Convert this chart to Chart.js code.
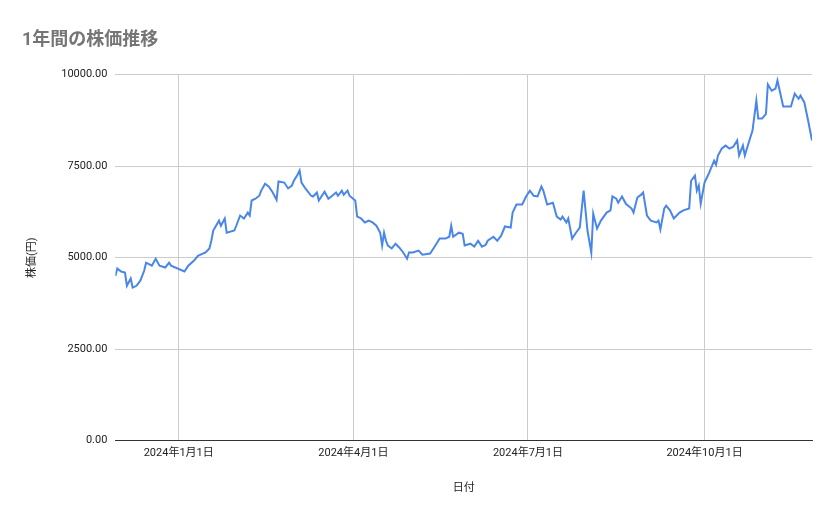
<!DOCTYPE html>
<html><head><meta charset="utf-8">
<script src="https://cdn.jsdelivr.net/npm/chart.js@4"></script>
<style>html,body{margin:0;padding:0;background:#fff}#w{width:839px;height:519px;position:relative}</style>
</head><body><div id="w"><canvas id="c"></canvas></div>
<script>
// days relative to 2024-01-01
const days=[-33,-32,-30,-28,-27,-25,-24,-22,-20,-18,-17,-14,-12,-10,-7,-5,-4,3,5,8,10,14,16,17,18,21,22,24,25,29,30,32,34,36,37,38,40,42,43,45,47,49,51,52,55,57,59,60,62,63,64,66,69,70,72,73,76,78,80,82,83,85,86,88,89,92,93,95,97,99,101,103,105,106,107,108,109,111,113,115,117,119,120,122,125,127,131,133,136,139,141,142,143,146,148,149,152,154,156,158,160,161,164,166,168,170,173,174,176,179,181,183,185,187,189,190,192,195,197,199,200,202,203,205,207,209,211,213,215,216,218,220,223,225,226,228,229,231,233,236,237,239,241,242,244,246,249,250,251,253,254,256,258,261,263,266,267,269,270,271,272,274,276,279,280,281,283,285,287,289,291,292,294,295,297,299,301,302,304,306,307,309,311,312,315,319,321,323,324,326,328,330];
const prices=[4500,4700,4620,4590,4230,4430,4180,4230,4370,4640,4860,4780,4970,4780,4730,4860,4780,4620,4780,4920,5050,5140,5250,5460,5740,6010,5870,6070,5680,5740,5870,6150,6070,6230,6150,6560,6610,6690,6830,7020,6940,6780,6580,7080,7050,6890,6970,7100,7270,7380,7050,6890,6690,6670,6780,6560,6800,6610,6690,6780,6690,6830,6720,6830,6690,6560,6120,6070,5960,6010,5960,5870,5680,5330,5680,5460,5330,5250,5380,5270,5140,4970,5140,5140,5190,5080,5110,5270,5520,5520,5570,5870,5570,5680,5650,5330,5380,5300,5460,5300,5350,5460,5570,5460,5600,5850,5820,6230,6450,6450,6670,6830,6690,6670,6940,6830,6450,6500,6120,6040,6120,5960,6070,5520,5680,5820,6830,5740,5140,6200,5790,6010,6230,6290,6670,6610,6500,6670,6470,6340,6230,6640,6720,6780,6150,6010,5960,6010,5770,6340,6420,6290,6070,6230,6290,6340,7100,7240,6830,6970,6470,7050,7270,7650,7540,7790,7980,8060,7980,8030,8200,7790,8060,7790,8140,8470,9290,8800,8800,8930,9730,9560,9620,9840,9130,9130,9480,9340,9430,9240,8740,8200];
const xTicks=[0,91,182,274];
const xTickLabels=['2024年1月1日','2024年4月1日','2024年7月1日','2024年10月1日'];
const yTicks=[0,2500,5000,7500,10000];
const F='"Roboto","Noto Sans CJK JP",sans-serif';
new Chart(document.getElementById('c'),{
type:'line',
data:{datasets:[{data:days.map((d,i)=>({x:d,y:prices[i]})),borderColor:'#4a86e8',borderWidth:2,pointRadius:0,tension:0}]},
options:{responsive:true,maintainAspectRatio:false,animation:false,
layout:{padding:{top:20,right:27,left:22,bottom:20}},
plugins:{legend:{display:false},tooltip:{enabled:false},
title:{display:true,text:'1年間の株価推移',align:'start',color:'#757575',font:{family:F,size:18,weight:'bold'},padding:{top:10,bottom:23}}},
scales:{
x:{type:'linear',min:-33,max:330,
afterBuildTicks:s=>{s.ticks=xTicks.map(v=>({value:v}))},
ticks:{callback:v=>xTickLabels[xTicks.indexOf(v)],color:'#222',font:{family:F,size:11},maxRotation:0,padding:6},
grid:{color:'#ccc',drawTicks:false},border:{color:'#333'},
title:{display:true,text:'日付',color:'#222',font:{family:F,size:11},padding:{top:16}}},
y:{min:0,max:10000,
afterBuildTicks:s=>{s.ticks=yTicks.map(v=>({value:v}))},
ticks:{callback:v=>v.toFixed(2),color:'#222',font:{family:F,size:11},padding:8},
grid:{color:'#ccc',drawTicks:false},border:{display:false},
title:{display:true,text:'株価(円)',color:'#222',font:{family:F,size:11},padding:{bottom:14}}}
}}});
</script></body></html>
